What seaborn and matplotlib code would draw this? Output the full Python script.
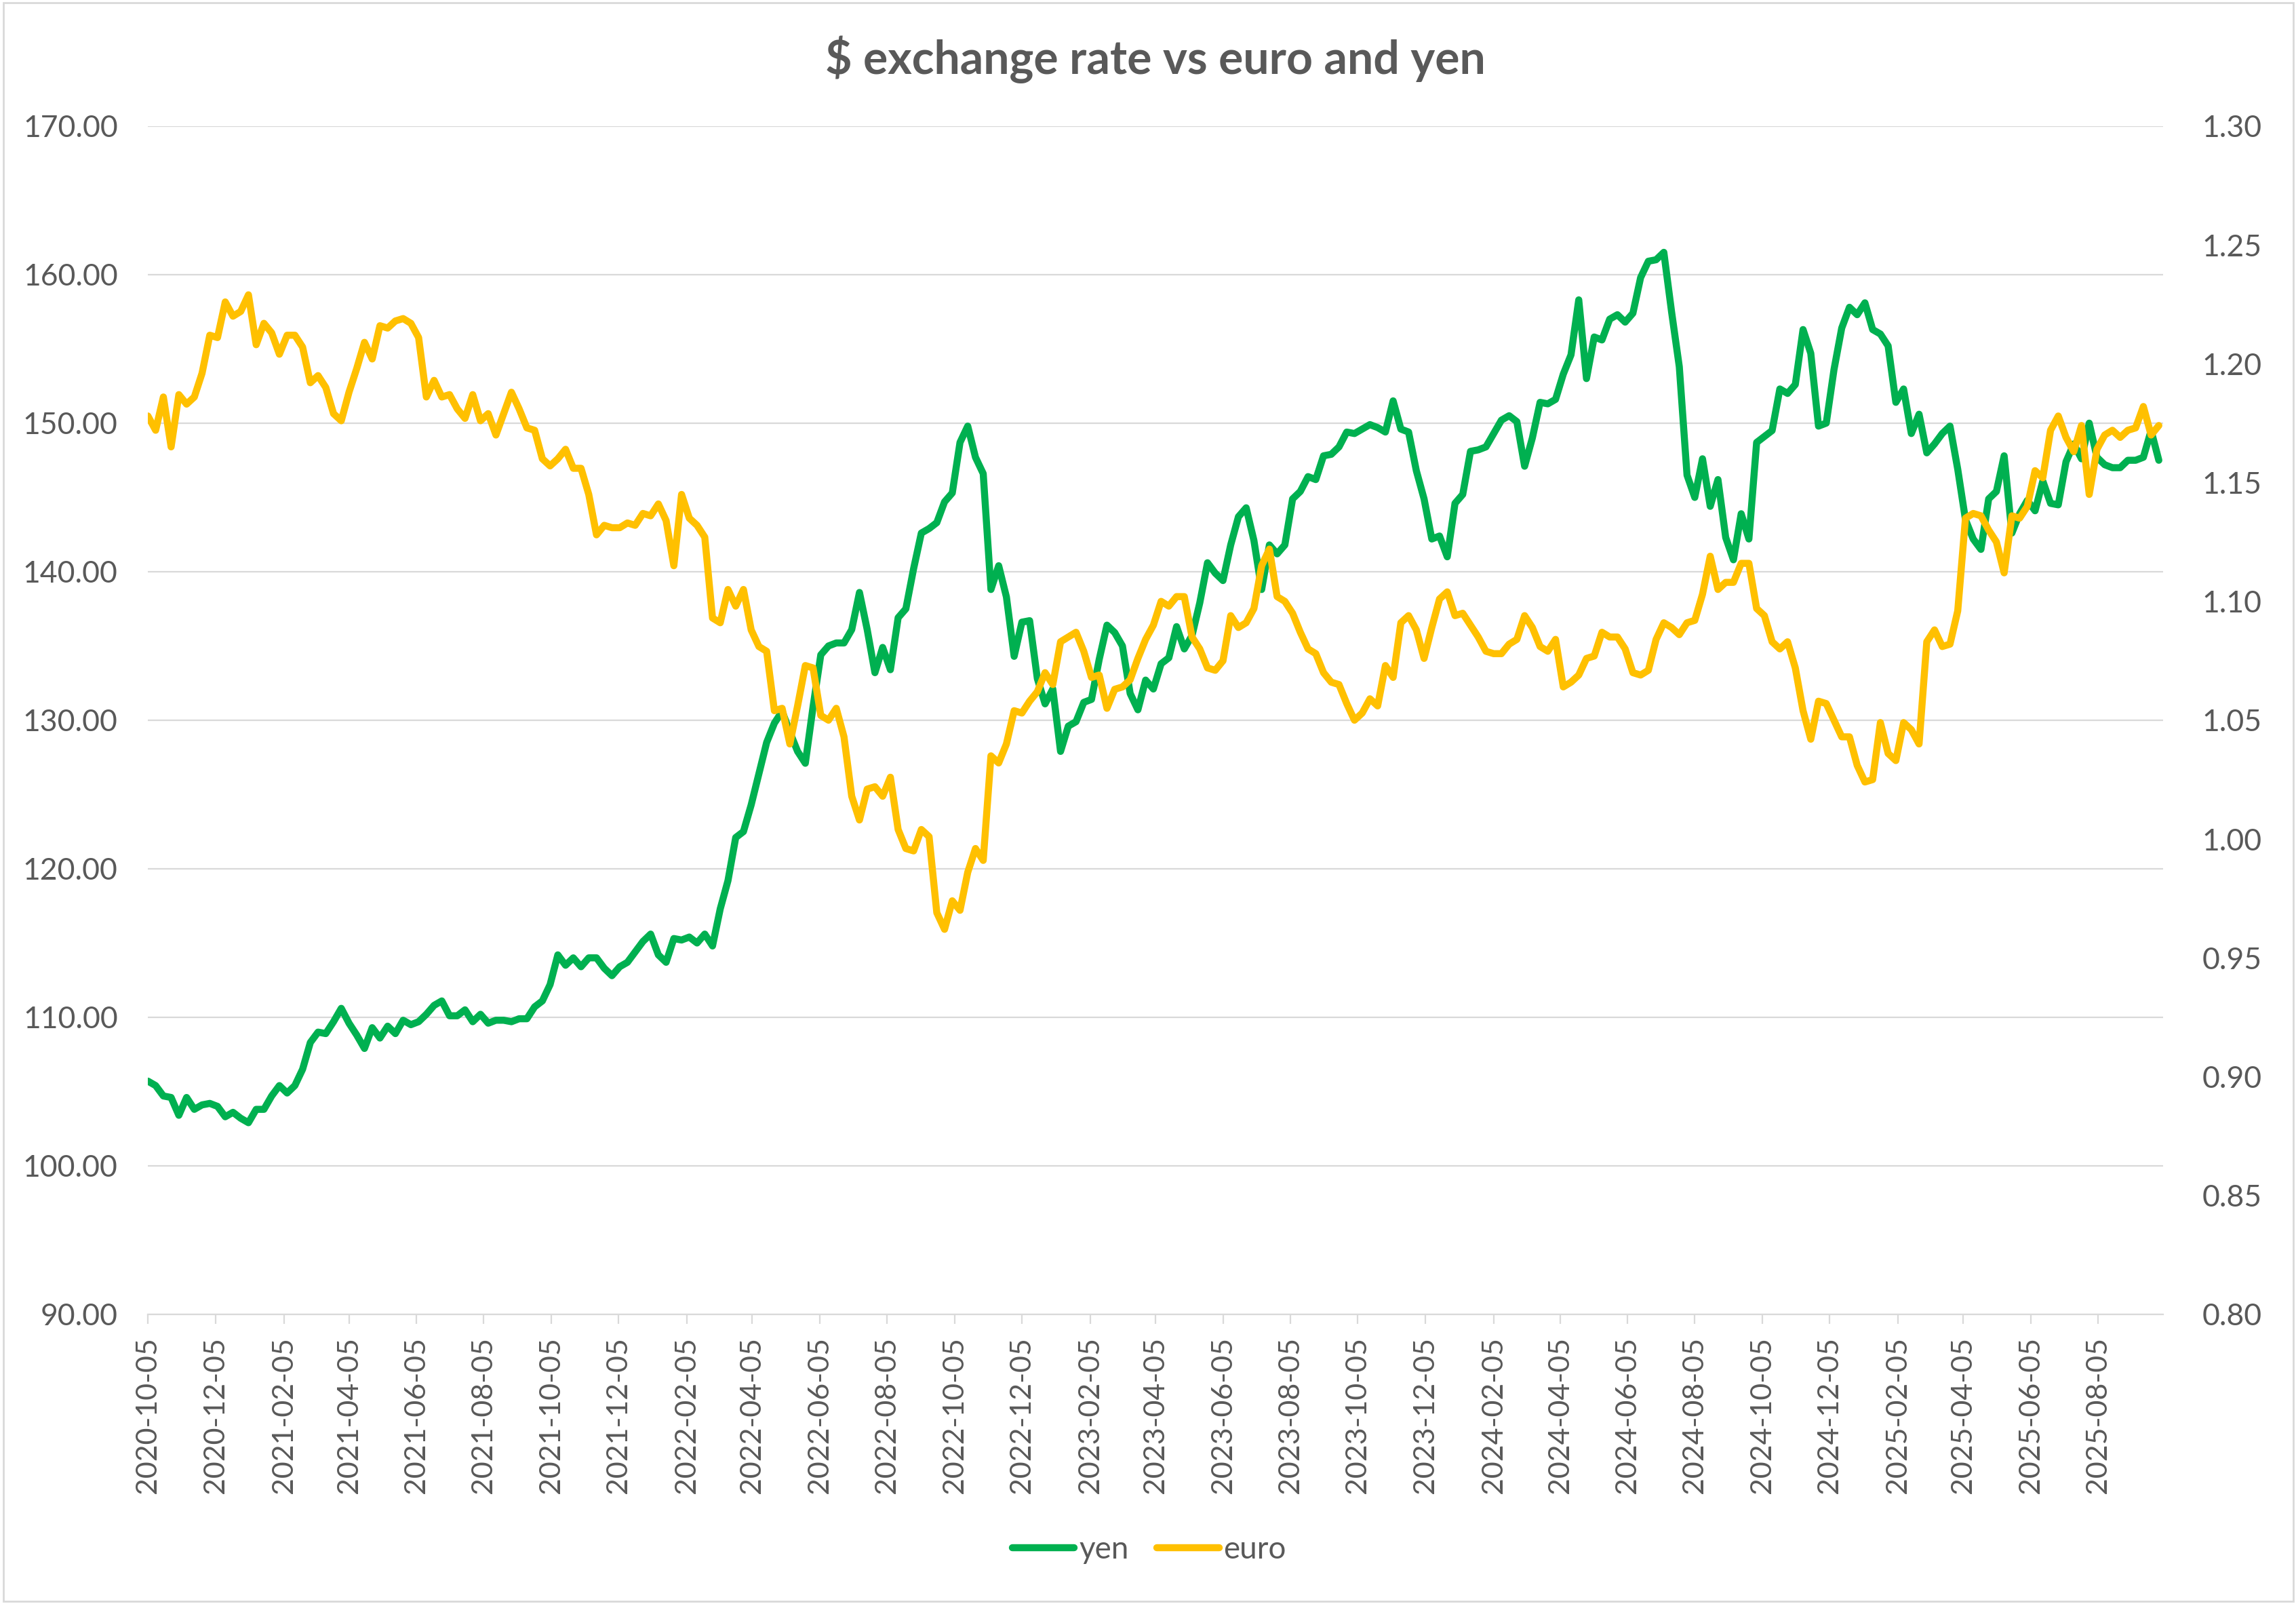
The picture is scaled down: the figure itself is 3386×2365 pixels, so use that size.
import numpy as np
import pandas as pd
import matplotlib
matplotlib.use("Agg")
import matplotlib.pyplot as plt
import seaborn as sns
from matplotlib.ticker import FormatStrFormatter
from matplotlib.patches import Rectangle

sns.set_theme(style="white")
plt.rcParams["font.family"] = ["Lato", "DejaVu Sans"]

GREEN = "#00B050"
GOLD = "#FFC000"
TXT = "#595959"
GRID = "#D9D9D9"

# ---- weekly USD/JPY (yen per $), starting 2020-10-05 ----
yen_2020 = [105.7, 105.4, 104.7, 104.6, 103.4, 104.6, 103.8, 104.1, 104.2, 104.0, 103.3, 103.6, 103.2]
yen_2021 = [102.9, 103.8, 103.8, 104.7, 105.4, 104.9, 105.4, 106.5, 108.3, 109.0, 108.9, 109.7, 110.6,
            109.6, 108.8, 107.9, 109.3, 108.6, 109.4, 108.9, 109.8, 109.5, 109.7, 110.2, 110.8, 111.1,
            110.1, 110.1, 110.5, 109.7, 110.2, 109.6, 109.8, 109.8, 109.7, 109.9, 109.9, 110.7, 111.1,
            112.2, 114.2, 113.5, 114.0, 113.4, 114.0, 114.0, 113.3, 112.8, 113.4, 113.7, 114.4, 115.1]
yen_2022 = [115.6, 114.2, 113.7, 115.3, 115.2, 115.4, 115.0, 115.6, 114.8, 117.3, 119.2, 122.1, 122.5,
            124.3, 126.4, 128.5, 129.8, 130.6, 129.2, 127.9, 127.1, 130.9, 134.4, 135.0, 135.2, 135.2,
            136.1, 138.6, 136.1, 133.2, 134.9, 133.4, 136.9, 137.5, 140.2, 142.6, 142.9, 143.3, 144.7,
            145.3, 148.7, 149.8, 147.7, 146.6, 138.8, 140.4, 138.3, 134.3, 136.6, 136.7, 132.8, 131.1]
yen_2023 = [132.1, 127.9, 129.6, 129.9, 131.2, 131.4, 134.1, 136.4, 135.9, 135.0, 131.8, 130.7, 132.7,
            132.1, 133.8, 134.2, 136.3, 134.8, 135.7, 137.9, 140.6, 139.9, 139.4, 141.8, 143.7, 144.3,
            142.1, 138.8, 141.8, 141.2, 141.8, 144.9, 145.4, 146.4, 146.2, 147.8, 147.9, 148.4, 149.4,
            149.3, 149.6, 149.9, 149.7, 149.4, 151.5, 149.6, 149.4, 146.8, 144.9, 142.2, 142.4, 141.0]
yen_2024 = [144.6, 145.2, 148.1, 148.2, 148.4, 149.3, 150.2, 150.5, 150.1, 147.1, 149.0, 151.4, 151.3,
            151.6, 153.3, 154.6, 158.3, 153.0, 155.8, 155.6, 157.0, 157.3, 156.8, 157.4, 159.8, 160.9,
            161.0, 161.5, 157.5, 153.8, 146.5, 145.0, 147.6, 144.4, 146.2, 142.3, 140.8, 143.9, 142.2,
            148.7, 149.1, 149.5, 152.3, 152.0, 152.6, 156.3, 154.7, 149.8, 150.0, 153.6, 156.4, 157.8,
            157.3]
yen_2025 = [158.1, 156.3, 156.0, 155.2, 151.4, 152.3, 149.3, 150.6, 148.0, 148.6, 149.3, 149.8, 146.9,
            143.5, 142.2, 141.5, 144.9, 145.4, 147.8, 142.6, 143.9, 144.8, 144.1, 146.1, 144.6, 144.5,
            147.4, 148.6, 147.6, 150.0, 147.7, 147.2, 147.0, 147.0, 147.5, 147.5, 147.7, 149.5, 147.5]

# ---- weekly EUR/USD ($ per euro) ----
euro_2020 = [1.178, 1.172, 1.186, 1.165, 1.187, 1.183, 1.186, 1.196, 1.212, 1.211, 1.226, 1.220, 1.222]
euro_2021 = [1.229, 1.208, 1.217, 1.213, 1.204, 1.212, 1.212, 1.207, 1.192, 1.195, 1.190, 1.179, 1.176,
             1.188, 1.198, 1.209, 1.202, 1.216, 1.215, 1.218, 1.219, 1.217, 1.211, 1.186, 1.193, 1.186,
             1.187, 1.181, 1.177, 1.187, 1.176, 1.179, 1.170, 1.179, 1.188, 1.181, 1.173, 1.172, 1.160,
             1.157, 1.160, 1.164, 1.156, 1.156, 1.145, 1.128, 1.132, 1.131, 1.131, 1.133, 1.132, 1.137]
euro_2022 = [1.136, 1.141, 1.134, 1.115, 1.145, 1.135, 1.132, 1.127, 1.093, 1.091, 1.105, 1.098, 1.105,
             1.088, 1.081, 1.079, 1.054, 1.055, 1.040, 1.056, 1.073, 1.072, 1.052, 1.050, 1.055, 1.043,
             1.018, 1.008, 1.021, 1.022, 1.018, 1.026, 1.004, 0.996, 0.995, 1.004, 1.001, 0.969, 0.962,
             0.974, 0.970, 0.986, 0.996, 0.991, 1.035, 1.032, 1.040, 1.054, 1.053, 1.058, 1.062, 1.070]
euro_2023 = [1.065, 1.083, 1.085, 1.087, 1.079, 1.068, 1.069, 1.055, 1.063, 1.064, 1.067, 1.076, 1.084,
             1.090, 1.100, 1.098, 1.102, 1.102, 1.085, 1.080, 1.072, 1.071, 1.075, 1.094, 1.089, 1.091,
             1.097, 1.115, 1.122, 1.102, 1.100, 1.095, 1.087, 1.080, 1.078, 1.070, 1.066, 1.065, 1.057,
             1.050, 1.053, 1.059, 1.056, 1.073, 1.068, 1.091, 1.094, 1.088, 1.076, 1.089, 1.101, 1.104]
euro_2024 = [1.094, 1.095, 1.090, 1.085, 1.079, 1.078, 1.078, 1.082, 1.084, 1.094, 1.089, 1.081, 1.079,
             1.084, 1.064, 1.066, 1.069, 1.076, 1.077, 1.087, 1.085, 1.085, 1.080, 1.070, 1.069, 1.071,
             1.084, 1.091, 1.089, 1.086, 1.091, 1.092, 1.103, 1.119, 1.105, 1.108, 1.108, 1.116, 1.116,
             1.097, 1.094, 1.083, 1.080, 1.083, 1.072, 1.054, 1.042, 1.058, 1.057, 1.050, 1.043, 1.043,
             1.031]
euro_2025 = [1.024, 1.025, 1.049, 1.036, 1.033, 1.049, 1.046, 1.040, 1.083, 1.088, 1.081, 1.082, 1.096,
             1.135, 1.137, 1.136, 1.130, 1.125, 1.112, 1.136, 1.135, 1.140, 1.155, 1.152, 1.172, 1.178,
             1.169, 1.163, 1.174, 1.145, 1.164, 1.170, 1.172, 1.169, 1.172, 1.173, 1.182, 1.170, 1.174]

yen = yen_2020 + yen_2021 + yen_2022 + yen_2023 + yen_2024 + yen_2025
euro = euro_2020 + euro_2021 + euro_2022 + euro_2023 + euro_2024 + euro_2025

x_tick_labels = ["2020-10-05", "2020-12-05", "2021-02-05", "2021-04-05", "2021-06-05", "2021-08-05",
                 "2021-10-05", "2021-12-05", "2022-02-05", "2022-04-05", "2022-06-05", "2022-08-05",
                 "2022-10-05", "2022-12-05", "2023-02-05", "2023-04-05", "2023-06-05", "2023-08-05",
                 "2023-10-05", "2023-12-05", "2024-02-05", "2024-04-05", "2024-06-05", "2024-08-05",
                 "2024-10-05", "2024-12-05", "2025-02-05", "2025-04-05", "2025-06-05", "2025-08-05"]
yen_ticks = [90, 100, 110, 120, 130, 140, 150, 160, 170]
euro_ticks = [0.80, 0.85, 0.90, 0.95, 1.00, 1.05, 1.10, 1.15, 1.20, 1.25, 1.30]

dates = pd.date_range("2020-10-05", periods=len(yen), freq="7D")
df = pd.DataFrame({"date": dates, "yen": yen, "euro": euro})

fig = plt.figure(figsize=(33.87, 23.65), dpi=100)
ax = fig.add_axes([0.0644, 0.1806, 0.8775, 0.7408])
ax2 = ax.twinx()

lw = 7.5
sns.lineplot(data=df, x="date", y="yen", ax=ax, color=GREEN, linewidth=lw, label="yen",
             solid_capstyle="round", solid_joinstyle="round", legend=False)
sns.lineplot(data=df, x="date", y="euro", ax=ax2, color=GOLD, linewidth=lw, label="euro",
             solid_capstyle="round", solid_joinstyle="round", legend=False)

ax.set_xlim(pd.Timestamp("2020-10-05"), pd.Timestamp("2025-10-03"))
ax.set_ylim(90, 170)
ax2.set_ylim(0.80, 1.30)
ax.set_yticks(yen_ticks)
ax2.set_yticks(euro_ticks)
ax.yaxis.set_major_formatter(FormatStrFormatter("%.2f"))
ax2.yaxis.set_major_formatter(FormatStrFormatter("%.2f"))
ax.set_xticks(pd.to_datetime(x_tick_labels))
ax.set_xticklabels(x_tick_labels, rotation=90)

for a in (ax, ax2):
    a.set_xlabel("")
    a.set_ylabel("")
    for s in a.spines.values():
        s.set_visible(False)
ax.spines["bottom"].set_visible(True)
ax.spines["bottom"].set_color(GRID)
ax.spines["bottom"].set_linewidth(1.6)

ax.set_axisbelow(True)
ax.yaxis.grid(True, color=GRID, linewidth=1.6)
ax.xaxis.grid(False)
ax2.grid(False)

ax.tick_params(axis="y", length=0, pad=32, labelsize=32, labelcolor=TXT)
ax2.tick_params(axis="y", length=0, pad=41, labelsize=32, labelcolor=TXT)
ax.tick_params(axis="x", bottom=True, length=10, width=1.6, color=GRID, direction="out",
               pad=14, labelsize=31, labelcolor=TXT)

fig.text(0.503, 0.963, "$ exchange rate vs euro and yen", ha="center", va="center",
         fontsize=49, fontweight="bold", color=TXT)

h1 = ax.get_lines()[0]
h2 = ax2.get_lines()[0]
fig.legend([h1, h2], ["yen", "euro"], loc="center", bbox_to_anchor=(0.5004, 0.034), ncol=2,
           frameon=False, fontsize=33, handlelength=2.0, handletextpad=0.15, columnspacing=0.9,
           labelcolor=TXT)

fig.patches.append(Rectangle((0.0015, 0.0015), 0.997, 0.997, transform=fig.transFigure,
                             fill=False, edgecolor=GRID, linewidth=2))

fig.savefig("out.png", dpi=100)
